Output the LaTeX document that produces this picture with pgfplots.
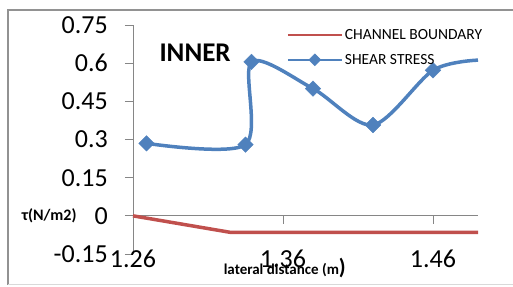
\documentclass[border=0pt]{standalone}
\usepackage{fontspec}
\setmainfont{Carlito}
\usepackage{pgfplots}
\pgfplotsset{compat=1.18}
\definecolor{exblue}{HTML}{4F81BD}
\definecolor{exred}{HTML}{C0504D}
\definecolor{axgray}{HTML}{868686}
\begin{document}
\begin{tikzpicture}
\begin{axis}[
  scale only axis, width=345bp, height=229bp,
  at={(133bp,33bp)}, anchor=south west,
  xmin=1.26, xmax=1.49, ymin=-0.15, ymax=0.75,
  axis x line=middle, axis y line=left,
  axis line style={-, axgray, line width=0.8pt},
  hide obscured x ticks=false, hide obscured y ticks=false,
  xtick={1.26,1.36,1.46}, xticklabels={1.26,1.36,1.46},
  ytick={-0.15,0,0.15,0.3,0.45,0.6,0.75},
  yticklabels={-0.15,0,0.15,0.3,0.45,0.6,0.75},
  tick align=outside, major tick length=8bp,
  tick style={axgray, line width=0.8pt},
  /pgf/number format/assume math mode=true,
  ticklabel style={font=\fontsize{26bp}{28bp}\selectfont, inner sep=0pt},
  xticklabel style={anchor=north, yshift=-26bp},
  yticklabel style={anchor=east, xshift=-17bp},
  clip=false,
  legend style={draw=none, fill=none, at={(axis description cs:0.445,0.99)}, anchor=north west,
    font=\fontsize{15.5bp}{17bp}\selectfont, row sep=9bp, inner sep=0pt,
    /tikz/every even column/.append style={column sep=0bp}},
  legend cell align=left,
]
\addplot[exred, line width=3.5bp,
  legend image code/.code={\draw[exred, line width=2.2bp] (0bp,0bp) -- (54bp,0bp);}]
  coordinates {(1.26,0) (1.325,-0.065) (1.49,-0.065)};
\addlegendentry{CHANNEL BOUNDARY}
\addplot[exblue, line width=3.5bp, smooth, forget plot] coordinates {
 (1.269,0.285) (1.335,0.28) (1.339,0.605) (1.38,0.50) (1.42,0.357) (1.46,0.572) (1.49,0.612)};
\addplot[only marks, mark=square*, mark size=5.5bp, mark options={rotate=45, fill=exblue, draw=exblue},
  legend image code/.code={\draw[exblue, line width=2.2bp] (0bp,0bp) -- (54bp,0bp);
     \fill[exblue] (27bp,-6bp) -- (33bp,0bp) -- (27bp,6bp) -- (21bp,0bp) -- cycle;}]
 coordinates {(1.269,0.285) (1.335,0.28) (1.339,0.605) (1.38,0.50) (1.42,0.357) (1.46,0.572)};
\addlegendentry{SHEAR STRESS}
\node[font=\bfseries\fontsize{27bp}{29bp}\selectfont] at (axis description cs:0.18,0.878) {INNER};
\node[font=\bfseries\fontsize{16bp}{18bp}\selectfont] at (axis description cs:-0.243,0.1667) {τ(N/m2)};
\node[font=\bfseries\fontsize{15bp}{17bp}\selectfont] at (axis description cs:0.44,-0.062) {lateral distance (m{\fontsize{22bp}{22bp}\selectfont)}};
\end{axis}
\draw[axgray!90, line width=2bp] (8bp,2bp) -- (8bp,277bp) -- (520bp,277bp);
\draw[gray!30, line width=1bp] (8bp,2bp) -- (520bp,2bp);
\pgfresetboundingbox
\useasboundingbox (0bp,0bp) rectangle (513bp,287bp);
\end{tikzpicture}
\end{document}
